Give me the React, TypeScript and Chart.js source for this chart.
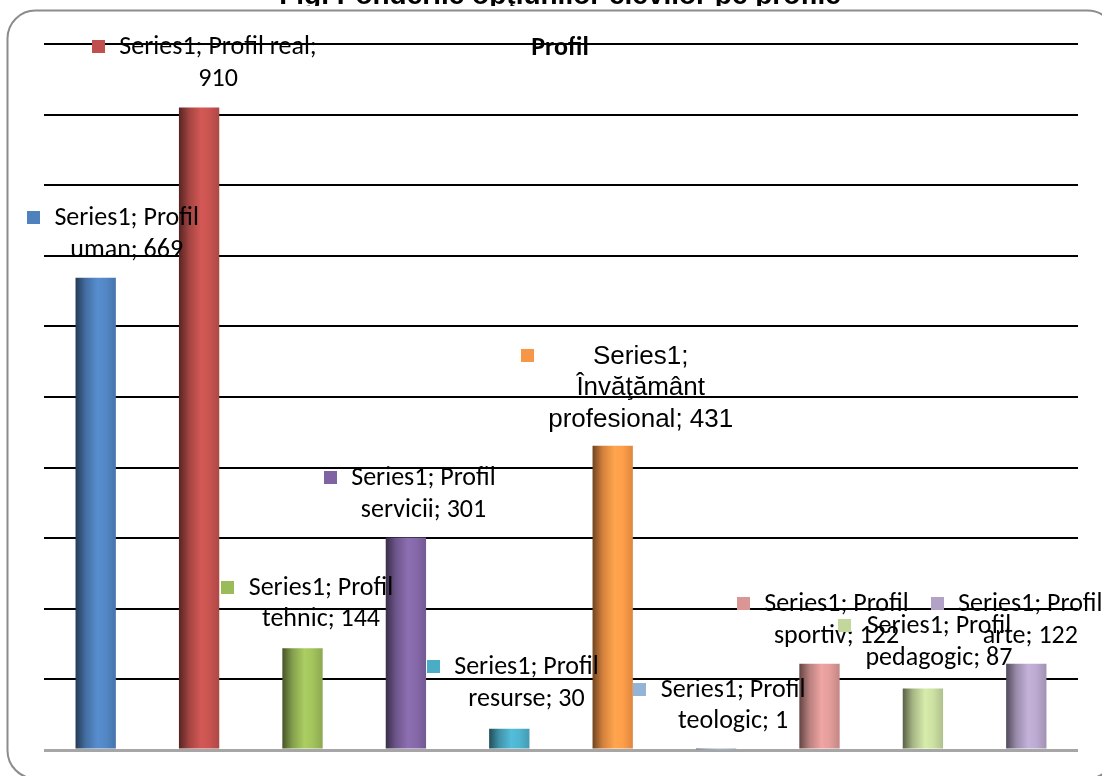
import React, { useEffect, useRef } from 'react';
import { Chart, registerables } from 'chart.js';

Chart.register(...registerables);

// ---- data ----
const categories = [
  'Profil uman',
  'Profil real',
  'Profil tehnic',
  'Profil servicii',
  'Profil resurse',
  'Învăţământ profesional',
  'Profil teologic',
  'Profil sportiv',
  'Profil pedagogic',
  'Profil arte',
];
const values = [669, 910, 144, 301, 30, 431, 1, 122, 87, 122];
const seriesName = 'Series1';
const chartTitle = 'Profil';
const figureTitle = 'Fig. Ponderile opţiunilor elevilor pe profile';
const yMin = 0;
const yMax = 1000;
const yStep = 100;

// ---- style / layout ----
const barColors = [
  '#4F81BD', '#C0504D', '#9BBB59', '#8064A2', '#4BACC6',
  '#F79646', '#95B3D7', '#D99694', '#C3D69B', '#B3A2C7',
];
// how many words go on each line of a data label
const labelWordBreaks = [[2, 2], [3, 1], [2, 2], [2, 2], [2, 2], [1, 1, 2], [2, 2], [2, 2], [2, 2], [2, 2]];
// label block offset (text centre x, first line y) relative to bar top centre
const labelOffsets = [
  [31, -59], [19, -60], [18.5, -60], [17.6, -58.5], [17.2, -61],
  [28, -89], [17, -59], [17, -59], [16, -61.6], [4, -59],
];
const BAR_PCT = 0.39;
const LABEL_FONT = '26px "Carlito", "Lato", sans-serif';
const LABEL_FONT_ALT = '26px "Liberation Sans", Arial, sans-serif';
const LINE_H = 31.5;

function shade(hex: string, f: number): string {
  const n = parseInt(hex.slice(1), 16);
  const r = (n >> 16) & 255, g = (n >> 8) & 255, b = n & 255;
  const c = (v: number) => Math.max(0, Math.min(255, Math.round(v * f)));
  return `rgb(${c(r)},${c(g)},${c(b)})`;
}

function labelLines(i: number): string[] {
  const words = `${seriesName}; ${categories[i]}; ${values[i]}`.split(' ');
  const out: string[] = [];
  let k = 0;
  for (const n of labelWordBreaks[i]) {
    out.push(words.slice(k, k + n).join(' '));
    k += n;
  }
  return out;
}

const framePlugin = {
  id: 'frame',
  beforeDraw(chart: any) {
    const ctx = chart.ctx;
    ctx.save();
    ctx.strokeStyle = '#8c8c8c';
    ctx.lineWidth = 2;
    ctx.beginPath();
    (ctx as any).roundRect(7.5, 10.5, 1108, 768, 28);
    ctx.stroke();
    // figure caption (cut off at the top of the image)
    ctx.beginPath();
    ctx.rect(0, 0, chart.width, 6);
    ctx.clip();
    ctx.fillStyle = '#000';
    ctx.font = 'bold 28px "Liberation Sans", Arial, sans-serif';
    ctx.textAlign = 'center';
    ctx.textBaseline = 'alphabetic';
    ctx.fillText(figureTitle, 560, 4);
    ctx.restore();
  },
};

const labelPlugin = {
  id: 'barLabels',
  afterDatasetsDraw(chart: any) {
    const ctx = chart.ctx;
    const meta = chart.getDatasetMeta(0);
    ctx.save();
    // chart title
    ctx.fillStyle = '#000';
    ctx.font = 'bold 26px "Carlito", "Lato", sans-serif';
    ctx.textAlign = 'center';
    ctx.textBaseline = 'middle';
    ctx.fillText(chartTitle, 560, 48);

    meta.data.forEach((bar: any, i: number) => {
      const { x, y } = bar.getProps(['x', 'y'], true);
      const lines = labelLines(i);
      ctx.font = i === 5 ? LABEL_FONT_ALT : LABEL_FONT;
      const cx = x + labelOffsets[i][0];
      const y1 = y + labelOffsets[i][1];
      const maxW = Math.max(...lines.map((l) => ctx.measureText(l).width));
      ctx.fillStyle = '#000';
      ctx.textAlign = 'center';
      ctx.textBaseline = 'middle';
      lines.forEach((l, k) => ctx.fillText(l, cx, y1 + k * LINE_H));
      const mx = cx - maxW / 2 - 21;
      ctx.fillStyle = barColors[i];
      ctx.fillRect(Math.round(mx - 6.5), Math.round(y1 - 7.5), 13, 13);
    });
    ctx.restore();
  },
};

export default function App() {
  const ref = useRef<HTMLCanvasElement>(null);
  useEffect(() => {
    if (!ref.current) return;
    const chart = new Chart(ref.current, {
      type: 'bar',
      data: {
        labels: categories,
        datasets: [
          {
            label: seriesName,
            data: values,
            borderWidth: 0,
            barPercentage: BAR_PCT,
            categoryPercentage: 1,
            backgroundColor: (c: any) => {
              const chart = c.chart;
              const base = barColors[c.dataIndex % barColors.length] || barColors[0];
              const xs = chart.scales && chart.scales.x;
              if (!chart.chartArea || !xs || c.dataIndex === undefined) return base;
              const center = xs.getPixelForValue(c.dataIndex);
              const w = (xs.width / categories.length) * BAR_PCT;
              const g = chart.ctx.createLinearGradient(center - w / 2, 0, center + w / 2, 0);
              g.addColorStop(0, shade(base, 0.45));
              g.addColorStop(0.25, shade(base, 0.85));
              g.addColorStop(0.55, shade(base, 1.1));
              g.addColorStop(0.75, shade(base, 1.05));
              g.addColorStop(1, shade(base, 0.9));
              return g;
            },
          },
        ],
      },
      options: {
        responsive: false,
        maintainAspectRatio: false,
        devicePixelRatio: 1,
        animation: false,
        layout: { padding: { left: 44, right: 24, top: 44, bottom: 26 } },
        plugins: {
          legend: { display: false },
          title: { display: false },
          tooltip: { enabled: false },
        },
        scales: {
          x: { display: false },
          y: {
            min: yMin,
            max: yMax,
            ticks: { display: false, stepSize: yStep },
            border: { display: false },
            grid: {
              drawTicks: false,
              color: (c: any) => (c.tick && c.tick.value === 0 ? '#a6a6a6' : '#000000'),
              lineWidth: (c: any) => (c.tick && c.tick.value === 0 ? 3 : 2),
            },
          },
        },
      },
      plugins: [framePlugin, labelPlugin],
    });
    return () => chart.destroy();
  }, []);
  return (
    <canvas
      ref={ref}
      width={1102}
      height={776}
      style={{ position: 'absolute', left: 0, top: 0, width: 1102, height: 776 }}
    />
  );
}
